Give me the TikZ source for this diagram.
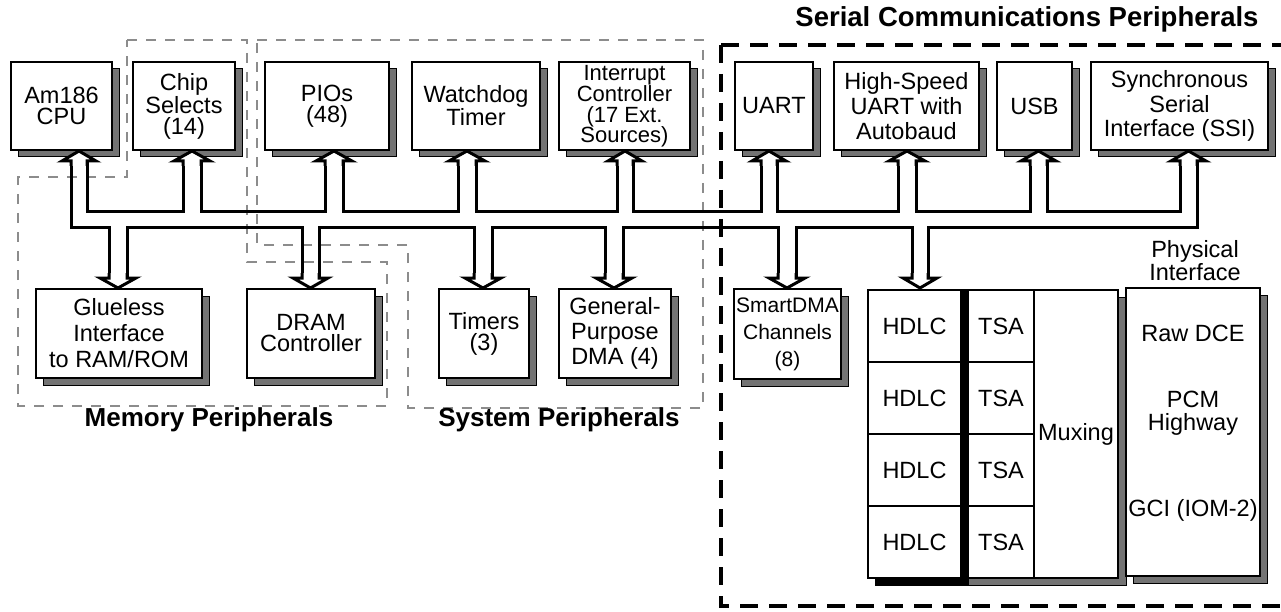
\documentclass[tikz,border=0pt]{standalone}
\usepackage{fontspec}
\setmainfont{Liberation Sans}
\usetikzlibrary{shadows}
\newcommand\fs[1]{\fontsize{23.5}{#1}\selectfont}
\newcommand\pbox[7]{\node[box, font={#6}, minimum width={(#4-#2)*1pt}, minimum height={(#5-#3)*1pt}] (#1) at ({(#2+#4)/2},{(#3+#5)/2}) {#7};}
\begin{document}
\begin{tikzpicture}[x=1pt,y=-1pt,
  box/.style={draw=black, line width=2pt, fill=white, inner sep=0pt, align=center,
     general shadow={fill=black!55, draw=black, line width=1pt, shadow xshift=7pt, shadow yshift=-7pt}},
  cell/.style={draw=black, line width=1.5pt, fill=white, inner sep=0pt, align=center, font=\fs{23}},
  txt/.style={inner sep=0pt, align=center},
  busline/.style={line width=3pt, line join=miter},
  head/.style={line width=3pt, line join=miter, fill=white},
  region/.style={draw=black!45, line width=1.5pt, dash pattern=on 10pt off 9pt},
  serial/.style={line width=3.5pt, dash pattern=on 18pt off 11pt},
  lbl/.style={inner sep=0pt, font=\fontsize{26}{28}\selectfont\bfseries}]
\useasboundingbox (0,0) rectangle (1281,612);
\fill[white] (0,0) rectangle (1281,612);

% dotted peripheral regions
\draw[region] (127,40) -- (247,40) -- (247,262) -- (387,262) -- (387,406) -- (18,406) -- (18,177) -- (127,177) -- cycle;
\draw[region] (257,40) -- (703,40) -- (703,408) -- (408,408) -- (408,245) -- (257,245) -- cycle;

% dashed serial region
\draw[serial] (721,45) -- (1290,45);
\draw[serial] (721,45) -- (721,606) -- (1290,606);

% labels
\node[lbl] (memlbl) at (209,420) {Memory Peripherals};
\node[lbl] (syslbl) at (559,420) {System Peripherals};
\node[lbl, font=\fontsize{27.5}{28}\selectfont\bfseries] (serlbl) at (1027,19) {Serial Communications Peripherals};
\node[txt, font=\fs{23}] (physlbl) at (1195,261) {Physical\\Interface};

% top row
\pbox{cpu}{11}{62}{112}{150}{\fs{21}}{Am186\\CPU}
\pbox{cs}{133}{62}{235}{150}{\fs{21}}{Chip\\Selects\\(14)}
\pbox{pio}{265}{62}{389}{150}{\fs{21}}{PIOs\\(48)}
\pbox{wdt}{412}{62}{540}{150}{\fs{21}}{Watchdog\\Timer}
\pbox{ic}{559}{62}{690}{150}{\fontsize{22}{20.5}\selectfont}{Interrupt\\Controller\\(17 Ext.\\Sources)}
\pbox{uart}{735}{62}{813}{150}{\fs{21}}{UART}
\pbox{hsu}{834}{62}{979}{150}{\fs{25}}{High-Speed\\UART with\\Autobaud}
\pbox{usb}{997}{62}{1072}{150}{\fs{21}}{USB}
\pbox{ssi}{1091}{62}{1268}{150}{\fs{24.5}}{Synchronous\\Serial\\Interface (SSI)}

% bottom row
\pbox{glue}{36}{289}{202}{378}{\fs{26}}{Glueless\\Interface\\to RAM/ROM}
\pbox{dram}{247}{289}{375}{378}{\fs{21}}{DRAM\\Controller}
\pbox{tmr}{439}{289}{529}{378}{\fs{21}}{Timers\\(3)}
\pbox{gpd}{559}{289}{671}{378}{\fs{25}}{General-\\Purpose\\DMA (4)}
\pbox{sdma}{734}{289}{841}{379}{\fontsize{21}{27}\selectfont}{SmartDMA\\Channels\\(8)}

% HDLC / TSA / Muxing block
\path[fill=black!55, draw=black, line width=1pt] (875,578) -- (875,585) -- (1126,585) -- (1126,297) -- (1118,297) -- (1118,578) -- cycle;
\fill[black] (875,578) rectangle (968,586);
\foreach \i/\y in {1/290,2/362,3/434,4/506}{
  \node[cell, minimum width=93pt, minimum height=72pt] (hdlc\i) at (914.5,\y+36) {HDLC};
  \node[cell, minimum width=66pt, minimum height=72pt] (tsa\i) at (1001,\y+36) {TSA};
}
\node[cell, minimum width=84pt, minimum height=288pt] (mux) at (1076,434) {Muxing};
\fill[black] (960,289) rectangle (969,586);
\draw[line width=2pt] (868,290) rectangle (1118,578);

% physical interface
\pbox{phys}{1126}{288}{1260}{576}{\fs{21}}{}
\node[txt, font=\fs{23}] (rawdce) at (1193,333) {Raw DCE};
\node[txt, font=\fs{23}] (pcm) at (1193,413) {PCM\\Highway};
\node[txt, font=\fs{23}] (gci) at (1193,510) {GCI (IOM-2)};

% hollow bus
\draw[busline] (87,161) |- (183,212) -- (183,161);
\draw[busline] (201,161) |- (325,212) -- (325,161);
\draw[busline] (343,161) |- (458,212) -- (458,161);
\draw[busline] (476,161) |- (617,212) -- (617,161);
\draw[busline] (633,161) |- (761,212) -- (761,161);
\draw[busline] (777,161) |- (898,212) -- (898,161);
\draw[busline] (916,161) |- (1030,212) -- (1030,161);
\draw[busline] (1047,161) |- (1180,212) -- (1180,161);
\draw[busline] (71,161) |- (109,228) -- (109,278);
\draw[busline] (127,278) |- (302,228) -- (302,278);
\draw[busline] (319,278) |- (474,228) -- (474,278);
\draw[busline] (492,278) |- (605,228) -- (605,278);
\draw[busline] (623,278) |- (778,228) -- (778,278);
\draw[busline] (796,278) |- (912,228) -- (912,278);
\draw[busline] (928,278) |- (1197,228) -- (1197,161);

% arrow heads into the top boxes
\foreach \L/\R in {71/87,183/201,325/343,458/476,617/633,761/777,898/916,1030/1047,1180/1197}{
  \draw[head] (\L,166) -- (\L,161) -- (\L-9,161) -- ({(\L+\R)/2},151) -- (\R+9,161) -- (\R,161) -- (\R,166);
}
% arrow heads into the bottom boxes
\foreach \L/\R in {109/127,302/319,474/492,605/623,778/796,912/928}{
  \draw[head] (\L,273) -- (\L,278) -- (\L-9,278) -- ({(\L+\R)/2},288) -- (\R+9,278) -- (\R,278) -- (\R,273);
}
\end{tikzpicture}
\end{document}
